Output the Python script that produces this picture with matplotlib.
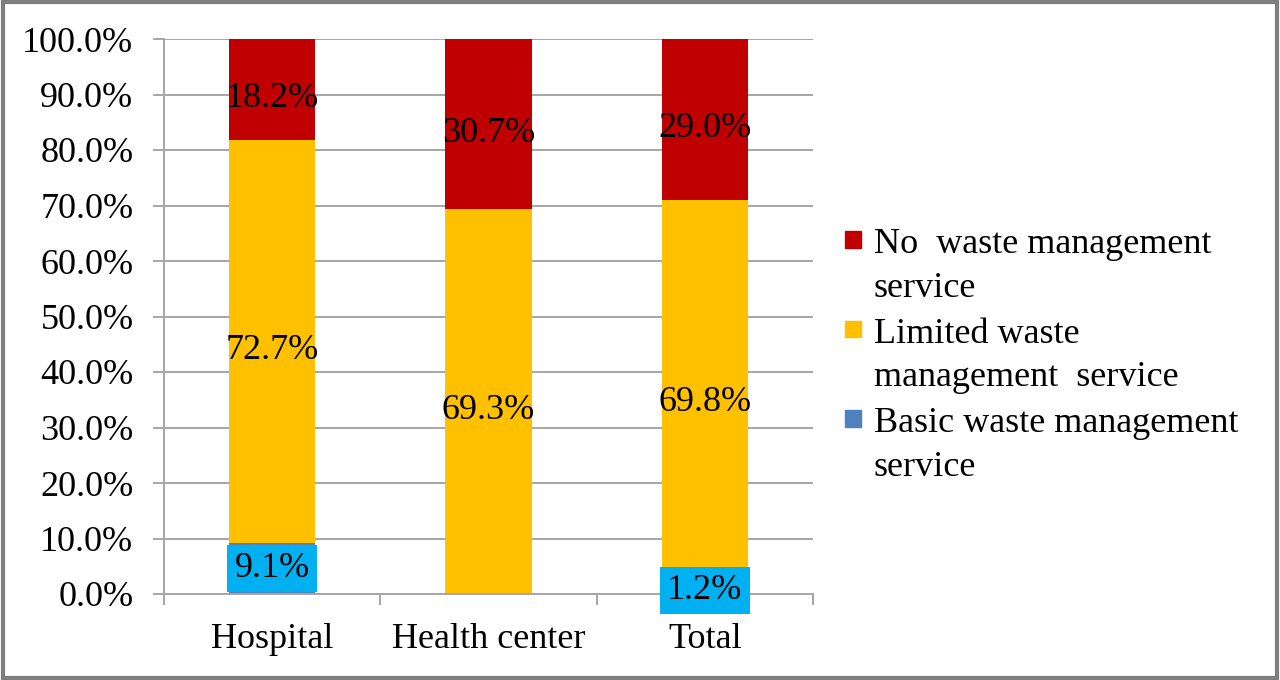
import matplotlib
matplotlib.use("Agg")
import matplotlib.pyplot as plt
from matplotlib.legend_handler import HandlerPatch
from matplotlib.patches import Patch, Rectangle
import numpy as np

# Values (percent of facilities)
categories = ["Hospital", "Health center", "Total"]
basic = [9.1, 0.0, 1.2]
limited = [72.7, 69.3, 69.8]
no_service = [18.2, 30.7, 29.0]
y_ticks = np.arange(0, 101, 10)

series_labels = ["No  waste management\nservice",
                 "Limited waste\nmanagement  service",
                 "Basic waste management\nservice"]

RED, YELLOW, BLUE, CYAN = "#C00000", "#FFC000", "#4F81BD", "#00B0F0"
GRID = "#A6A6A6"
FS = 26

plt.rcParams["font.family"] = ["Liberation Serif", "DejaVu Serif"]

fig = plt.figure(figsize=(12.8, 6.8), dpi=100)
ax = fig.add_axes([164 / 1280, 86 / 680, (813 - 164) / 1280, (594 - 39) / 680])

x = np.arange(len(categories))
w = 0.4
basic = np.array(basic)
limited = np.array(limited)
no_service = np.array(no_service)

ax.bar(x, basic, w, color=BLUE, zorder=2)
ax.bar(x, limited, w, bottom=basic, color=YELLOW, zorder=2)
ax.bar(x, no_service, w, bottom=basic + limited, color=RED, zorder=2)

# segment labels, centred in each segment (nudged down a little like Excel)
for i in range(len(x)):
    ax.annotate(f"{no_service[i]:.1f}%", (x[i], basic[i] + limited[i] + no_service[i] / 2),
                xytext=(0, -6.5), textcoords="offset points",
                ha="center", va="center", fontsize=FS, zorder=3)
    ax.annotate(f"{limited[i]:.1f}%", (x[i], basic[i] + limited[i] / 2),
                xytext=(0, -6.5), textcoords="offset points",
                ha="center", va="center", fontsize=FS, zorder=3)
    if basic[i] > 0:
        ax.text(x[i], basic[i] / 2, f"{basic[i]:.1f}%",
                ha="center", va="center", fontsize=FS, zorder=3,
                bbox=dict(boxstyle="square,pad=0.2", fc=CYAN, ec="none"))

ax.set_xlim(-0.5, 2.5)
ax.set_ylim(0, 100)
ax.set_yticks(y_ticks)
ax.set_yticklabels([f"{v:.1f}%" for v in y_ticks], fontsize=FS)
ax.yaxis.grid(True, color=GRID, lw=1.4, zorder=0)
ax.set_axisbelow(True)

ax.set_xticks(np.arange(-0.5, 2.6, 1.0))
ax.set_xticklabels([])
ax.set_xticks(x, minor=True)
ax.set_xticklabels(categories, minor=True, fontsize=FS)
ax.tick_params(axis="x", which="major", length=8, width=1.4, color=GRID, direction="out")
ax.tick_params(axis="x", which="minor", length=0, pad=21)
ax.tick_params(axis="y", length=8, width=1.4, color=GRID, pad=14)

for s in ("top", "right"):
    ax.spines[s].set_visible(False)
for s in ("left", "bottom"):
    ax.spines[s].set_color(GRID)
    ax.spines[s].set_linewidth(1.4)


def top_square(legend, orig_handle, xdescent, ydescent, width, height, fontsize):
    # square marker aligned with the first line of a two-line label
    sq = 0.45 * fontsize
    return Rectangle((-xdescent, -ydescent + height - sq + 0.05 * fontsize), sq, sq)


handles = [Patch(color=RED), Patch(color=YELLOW), Patch(color=BLUE)]
leg = fig.legend(handles, series_labels, loc="center left",
                 bbox_to_anchor=(845 / 1280, 1 - 356 / 680), frameon=False,
                 fontsize=FS, borderpad=0, borderaxespad=0,
                 handlelength=0.45, handleheight=2.6, handletextpad=0.34,
                 labelspacing=0.36,
                 handler_map={Patch: HandlerPatch(patch_func=top_square)})
for t in leg.get_texts():
    t.set_linespacing(1.42)

# outer frame
fig.patches.append(Rectangle((0.002, 0.003), 0.996, 0.994, transform=fig.transFigure,
                             fill=False, ec="#7F7F7F", lw=3))

fig.savefig("out.png", dpi=100)
